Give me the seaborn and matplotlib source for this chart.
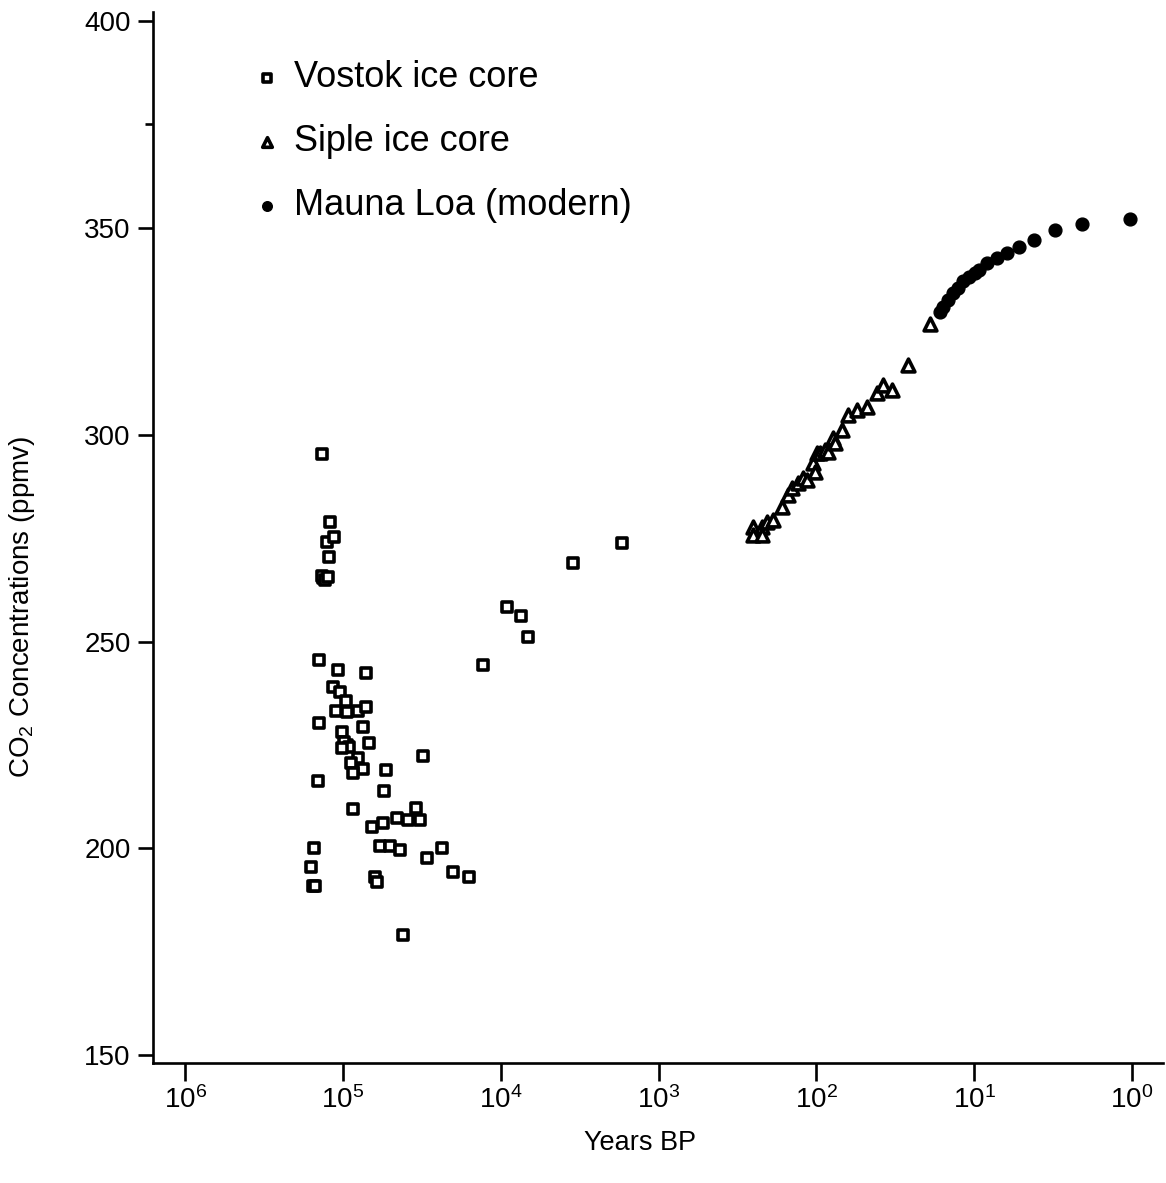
import numpy as np
import pandas as pd
import matplotlib
matplotlib.use("Agg")
import matplotlib.pyplot as plt
import matplotlib.ticker as mticker
import seaborn as sns

# ---------------- data ----------------
vostok_years = [135900, 120800, 126300, 114000, 122700, 133900, 136000, 130000, 124500,
                141900, 107600, 71500, 115700, 104400, 95700, 110700, 94300, 80300, 71500,
                141900, 74700, 101400, 94300, 98000, 92000, 68400, 101400, 31100, 80300,
                89000, 74700, 86400, 53400, 144000, 55000, 86400, 34500, 65500, 55800,
                45500, 38700, 32500, 152700, 58300, 50400, 43500, 29400, 23600, 159600,
                20100, 15900, 155000, 150400, 62700, 60900, 41700,
                12970, 9140, 7450, 6730, 3490, 1706]
vostok_ppm = [295.3, 278.9, 274.0, 275.2, 270.4, 265.3, 265.8, 264.8, 265.5,
              245.5, 243.1, 242.4, 239.0, 237.8, 235.6, 233.2, 232.9, 233.2, 234.1,
              230.3, 229.3, 228.1, 225.0, 225.8, 224.6, 225.4, 224.2, 222.3, 221.8,
              220.6, 219.1, 218.2, 218.9, 216.2, 213.8, 209.5, 209.7, 205.1, 206.1,
              207.3, 206.8, 206.8, 200.1, 200.5, 200.5, 199.6, 197.6, 200.1, 195.5,
              194.2, 193.0, 190.9, 190.9, 193.0, 191.8, 179.0,
              244.3, 258.3, 256.1, 251.1, 269.0, 273.8]

siple_years = [252, 221, 252, 221, 206, 188, 165, 151, 143, 131, 122, 115, 105, 102,
               99, 95, 88, 84, 78.5, 76, 68.8, 63, 55.3, 47.8, 41.3, 37.8, 33.2,
               26.3, 19.1]
siple_ppm = [277.7, 277.7, 275.7, 275.7, 278.9, 279.4, 282.5, 285.4, 287.1, 288.3,
             289.5, 289.0, 293.1, 290.9, 295.6, 295.6, 296.3, 295.8, 299.2, 298.0,
             301.1, 304.7, 305.9, 306.7, 310.1, 312.0, 310.8, 316.8, 326.7]

mauna_years = [16.5, 15.8, 14.7, 13.6, 12.7, 11.8, 10.8, 9.9, 9.3, 8.3, 7.2, 6.2,
               5.2, 4.2, 3.1, 2.07, 1.03]
mauna_ppm = [329.6, 330.9, 332.5, 334.2, 335.4, 337.1, 338.1, 339.1, 339.8, 341.5,
             342.7, 343.9, 345.4, 347.0, 349.5, 350.9, 352.1]

series_labels = ["Vostok ice core", "Siple ice core", "Mauna Loa (modern)"]
y_ticks = [150, 200, 250, 300, 350, 400]
x_ticks = [1e6, 1e5, 1e4, 1e3, 1e2, 1e1, 1e0]

df = pd.concat([
    pd.DataFrame({"years": vostok_years, "ppm": vostok_ppm, "source": series_labels[0]}),
    pd.DataFrame({"years": siple_years, "ppm": siple_ppm, "source": series_labels[1]}),
    pd.DataFrame({"years": mauna_years, "ppm": mauna_ppm, "source": series_labels[2]}),
])

# ---------------- style ----------------
sns.set_style("ticks")
plt.rcParams["font.family"] = ["Liberation Sans", "DejaVu Sans"]
plt.rcParams["mathtext.default"] = "regular"
plt.rcParams["text.color"] = "black"
plt.rcParams["axes.labelcolor"] = "black"

fig = plt.figure(figsize=(11.66, 11.83), dpi=100)
ax = fig.add_axes([0.1312, 0.1014, 0.8662, 0.8885])

styles = {
    series_labels[0]: dict(marker="s", s=62, facecolor="white", edgecolor="black", linewidth=2.6),
    series_labels[1]: dict(marker="^", s=85, facecolor="white", edgecolor="black", linewidth=2.6),
    series_labels[2]: dict(marker="o", s=85, facecolor="black", edgecolor="black", linewidth=1.0),
}
for lab in series_labels:
    sub = df[df["source"] == lab]
    sns.scatterplot(data=sub, x="years", y="ppm", ax=ax, label=lab, **styles[lab])

ax.set_xscale("log")
ax.set_xlim(1.6e6, 0.637)
ax.set_ylim(148.1, 402.2)
ax.set_xticks(x_ticks)
ax.xaxis.set_major_formatter(mticker.LogFormatterSciNotation())
ax.xaxis.set_minor_locator(mticker.NullLocator())
ax.set_yticks(y_ticks)
ax.yaxis.set_minor_locator(mticker.FixedLocator([375]))

for side in ["top", "right"]:
    ax.spines[side].set_visible(False)
for side in ["left", "bottom"]:
    ax.spines[side].set_linewidth(1.9)
    ax.spines[side].set_color("black")

ax.tick_params(axis="x", which="major", length=13, width=1.9, pad=4, labelsize=20, colors="black")
ax.tick_params(axis="y", which="major", length=11, width=1.9, pad=5, labelsize=20, colors="black")
ax.tick_params(axis="y", which="minor", length=6, width=1.9, colors="black")

ax.set_xlabel("Years BP", fontsize=19.5)
ax.xaxis.set_label_coords(0.482, -0.064)
ax.set_ylabel("CO$_2$ Concentrations (ppmv)", fontsize=20)
ax.yaxis.set_label_coords(-0.130, 0.434)
ax.yaxis.label.set_verticalalignment("center")

leg = ax.legend(loc="upper left", bbox_to_anchor=(0.063, 0.985), frameon=False,
                fontsize=26, markerscale=0.75, handletextpad=0.25, labelspacing=0.8,
                handlelength=1.0)
for t in leg.get_texts():
    t.set_color("black")

fig.savefig("out.png", dpi=100, facecolor="white")
